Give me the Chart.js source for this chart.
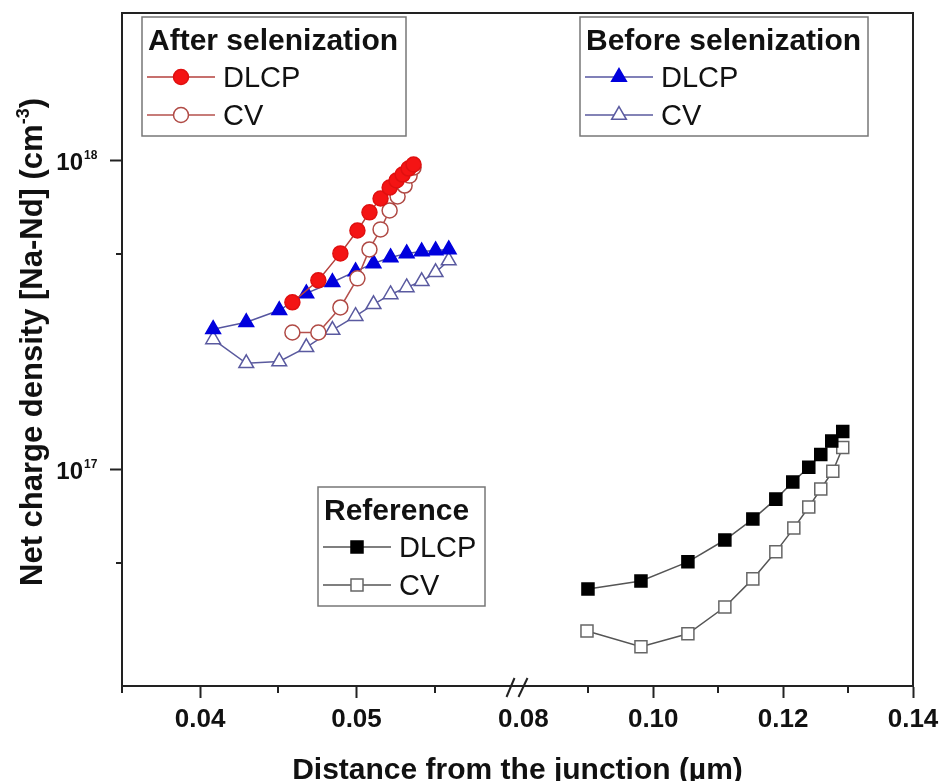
<!DOCTYPE html>
<html>
<head>
<meta charset="utf-8">
<script src="https://cdn.jsdelivr.net/npm/chart.js@4.4.1/dist/chart.umd.min.js"></script>
<style>
  html, body { margin: 0; padding: 0; background: #fff; }
</style>
</head>
<body>
<canvas id="chart" width="940" height="781"></canvas>
<script>
// distance from the junction (um) / net charge density (cm^-3)
const afterDlcpX = [0.0459, 0.04756, 0.04897, 0.05006, 0.05083, 0.05154, 0.05212, 0.05256, 0.05295, 0.05333, 0.05365];
const afterDlcpY = [3.48e17, 4.10e17, 5.01e17, 5.94e17, 6.80e17, 7.54e17, 8.18e17, 8.62e17, 9.01e17, 9.42e17, 9.71e17];
const afterCvX = [0.0459, 0.04756, 0.04897, 0.05006, 0.05083, 0.05154, 0.05212, 0.05263, 0.05308, 0.0534, 0.05365];
const afterCvY = [2.78e17, 2.78e17, 3.35e17, 4.16e17, 5.16e17, 5.99e17, 6.90e17, 7.65e17, 8.30e17, 8.94e17, 9.49e17];

const beforeX = [0.04083, 0.04295, 0.04506, 0.04679, 0.04846, 0.04994, 0.05109, 0.05218, 0.05321, 0.05417, 0.05506, 0.0559];
const beforeDlcpY = [2.85e17, 3.00e17, 3.28e17, 3.72e17, 4.04e17, 4.38e17, 4.65e17, 4.86e17, 5.01e17, 5.08e17, 5.12e17, 5.16e17];
const beforeCvY = [2.64e17, 2.21e17, 2.24e17, 2.49e17, 2.83e17, 3.14e17, 3.43e17, 3.69e17, 3.89e17, 4.07e17, 4.35e17, 4.75e17];

const refDlcpX = [0.08995, 0.09811, 0.10534, 0.11103, 0.11534, 0.11888, 0.12149, 0.12395, 0.1258, 0.12749, 0.12918];
const refDlcpY = [4.12e16, 4.37e16, 5.04e16, 5.93e16, 6.93e16, 8.04e16, 9.13e16, 1.02e17, 1.12e17, 1.24e17, 1.33e17];
const refCvX = [0.0898, 0.09811, 0.10534, 0.11103, 0.11534, 0.11888, 0.12165, 0.12395, 0.1258, 0.12765, 0.12918];
const refCvY = [3.01e16, 2.68e16, 2.95e16, 3.60e16, 4.44e16, 5.43e16, 6.48e16, 7.58e16, 8.67e16, 9.90e16, 1.18e17];

// axis ticks (x axis is broken between 0.06 and 0.08)
const xLeftMajor = [0.04, 0.05];
const xLeftMinor = [0.035, 0.045, 0.055];
const xRightMajor = [0.08, 0.10, 0.12, 0.14];
const xRightMinor = [0.09, 0.11, 0.13];
const yMajor = [1e17, 1e18];
const yMinor = [5e16, 5e17];

const FONT = 'Arial, "Liberation Sans", Helvetica, sans-serif';
const AXIS = '#222';

const toPoints = (xs, ys) => xs.map((x, i) => ({ x: x, y: ys[i] }));

const series = (label, xs, ys, axis, style) => Object.assign({
  label: label,
  data: toPoints(xs, ys),
  xAxisID: axis,
  showLine: true,
  borderWidth: 1.5,
  pointBorderWidth: 1.5,
  pointHoverRadius: 0,
}, style);

const datasets = [
  series('DLCP', afterDlcpX, afterDlcpY, 'xl', {
    borderColor: '#b5403c', pointStyle: 'circle', pointRadius: 7.5,
    pointBackgroundColor: '#f41414', pointBorderColor: '#e01010',
  }),
  series('CV', afterCvX, afterCvY, 'xl', {
    borderColor: '#b5504c', pointStyle: 'circle', pointRadius: 7.5,
    pointBackgroundColor: '#ffffff', pointBorderColor: '#b04a45',
  }),
  series('DLCP', beforeX, beforeDlcpY, 'xl', {
    borderColor: '#5656a0', pointStyle: 'triangle', pointRadius: 8.5,
    pointBackgroundColor: '#0000dd', pointBorderColor: '#0000dd',
  }),
  series('CV', beforeX, beforeCvY, 'xl', {
    borderColor: '#5a5a9e', pointStyle: 'triangle', pointRadius: 8.5,
    pointBackgroundColor: '#ffffff', pointBorderColor: '#5a5aa0',
  }),
  series('DLCP', refDlcpX, refDlcpY, 'xr', {
    borderColor: '#555555', pointStyle: 'rect', pointRadius: 8.5,
    pointBackgroundColor: '#000000', pointBorderColor: '#000000',
  }),
  series('CV', refCvX, refCvY, 'xr', {
    borderColor: '#555555', pointStyle: 'rect', pointRadius: 8.5,
    pointBackgroundColor: '#ffffff', pointBorderColor: '#666666',
  }),
];

// boxed legends, one per sample
const legendGroups = [
  { title: 'After selenization', left: 142, top: 17, width: 264, items: [0, 1] },
  { title: 'Before selenization', left: 580, top: 17, width: 288, items: [2, 3] },
  { title: 'Reference', left: 318, top: 487, width: 167, items: [4, 5] },
];

const line = (ctx, x1, y1, x2, y2) => {
  ctx.beginPath();
  ctx.moveTo(x1, y1);
  ctx.lineTo(x2, y2);
  ctx.stroke();
};

const decorations = {
  id: 'decorations',
  afterDraw(chart) {
    const { ctx, chartArea: area, scales } = chart;
    const xl = scales.xl, xr = scales.xr, y = scales.y;
    ctx.save();

    // frame top and right
    ctx.strokeStyle = AXIS;
    ctx.lineWidth = 2;
    line(ctx, area.left, area.top, area.right + 1, area.top);
    line(ctx, area.right, area.top, area.right, area.bottom);

    // minor ticks
    xLeftMinor.forEach(v => {
      const px = Math.round(xl.getPixelForValue(v));
      line(ctx, px, area.bottom, px, area.bottom + 7);
    });
    xRightMinor.forEach(v => {
      const px = Math.round(xr.getPixelForValue(v));
      line(ctx, px, area.bottom, px, area.bottom + 7);
    });
    yMinor.forEach(v => {
      const py = Math.round(y.getPixelForValue(v));
      line(ctx, area.left - 6, py, area.left, py);
    });

    // axis break marks
    const bx = xr.left;
    const by = area.bottom + 1;
    ctx.lineWidth = 2;
    line(ctx, bx - 11, by + 10, bx - 3, by - 9);
    line(ctx, bx + 1, by + 10, bx + 10, by - 9);

    // y tick labels as powers of ten
    ctx.fillStyle = '#111';
    yMajor.forEach(v => {
      const py = y.getPixelForValue(v);
      ctx.font = 'bold 24px ' + FONT;
      ctx.textAlign = 'right';
      ctx.textBaseline = 'middle';
      ctx.fillText('10', 83, py + 3);
      ctx.font = 'bold 12px ' + FONT;
      ctx.textAlign = 'left';
      ctx.textBaseline = 'alphabetic';
      ctx.fillText(String(Math.round(Math.log10(v))), 84, py - 2);
    });

    // x axis title
    ctx.font = 'bold 30px ' + FONT;
    ctx.textAlign = 'center';
    ctx.textBaseline = 'alphabetic';
    ctx.fillText('Distance from the junction (\u00b5m)', (area.left + area.right) / 2, 779);

    // y axis title with superscript
    ctx.save();
    ctx.translate(42, 342);
    ctx.rotate(-Math.PI / 2);
    const main = 'Net charge density [Na-Nd] (cm';
    const big = 'bold 31px ' + FONT, small = 'bold 18px ' + FONT;
    ctx.font = big;
    const w1 = ctx.measureText(main).width;
    const w3 = ctx.measureText(')').width;
    ctx.font = small;
    const w2 = ctx.measureText('-3').width;
    let x0 = -(w1 + w2 + w3) / 2;
    ctx.textAlign = 'left';
    ctx.font = big;
    ctx.fillText(main, x0, 0);
    ctx.font = small;
    ctx.fillText('-3', x0 + w1, -13);
    ctx.font = big;
    ctx.fillText(')', x0 + w1 + w2, 0);
    ctx.restore();

    // legends
    legendGroups.forEach(g => {
      ctx.strokeStyle = '#777';
      ctx.lineWidth = 1.5;
      ctx.strokeRect(g.left, g.top, g.width, 119);
      ctx.fillStyle = '#111';
      ctx.font = 'bold 30px ' + FONT;
      ctx.textAlign = 'left';
      ctx.textBaseline = 'alphabetic';
      ctx.fillText(g.title, g.left + 6, g.top + 33);
      g.items.forEach((di, k) => {
        const ds = chart.data.datasets[di];
        const ry = g.top + 60 + k * 38;
        ctx.strokeStyle = ds.borderColor;
        ctx.lineWidth = 1.5;
        line(ctx, g.left + 5, ry, g.left + 73, ry);
        ctx.fillStyle = ds.pointBackgroundColor;
        ctx.strokeStyle = ds.pointBorderColor;
        ctx.lineWidth = ds.pointBorderWidth;
        Chart.helpers.drawPoint(ctx, {
          pointStyle: ds.pointStyle, radius: ds.pointRadius, rotation: 0, borderWidth: ds.pointBorderWidth,
        }, g.left + 39, ry);
        ctx.fillStyle = '#111';
        ctx.font = '29px ' + FONT;
        ctx.fillText(ds.label, g.left + 81, ry + 10);
      });
    });

    ctx.restore();
  },
};

const xAxis = (min, max, majors) => ({
  type: 'linear',
  position: 'bottom',
  stack: 'x',
  stackWeight: 1,
  min: min,
  max: max,
  afterBuildTicks: s => { s.ticks = majors.map(v => ({ value: v })); },
  afterFit: s => {
    s.height = 95;
    // let the end labels hang past the frame instead of shrinking it
    s.paddingLeft = 0;
    s.paddingRight = 0;
  },
  grid: {
    drawOnChartArea: false,
    tickLength: 12,
    tickWidth: 2,
    // the 0.08 label sits on the break, no tick mark there
    tickColor: c => (c.tick && Math.abs(c.tick.value - 0.08) < 1e-9 ? 'rgba(0,0,0,0)' : AXIS),
  },
  border: { display: true, width: 2, color: AXIS },
  ticks: {
    autoSkip: false,
    maxRotation: 0,
    padding: 6,
    color: '#111',
    font: { family: FONT, size: 26, weight: 'bold' },
    callback: v => v.toFixed(2),
  },
});

new Chart(document.getElementById('chart'), {
  type: 'scatter',
  data: { datasets: datasets },
  plugins: [decorations],
  options: {
    responsive: false,
    animation: false,
    devicePixelRatio: 1,
    layout: { padding: { left: 0, top: 13, right: 27, bottom: 0 } },
    plugins: { legend: { display: false }, tooltip: { enabled: false } },
    scales: {
      xl: xAxis(0.035, 0.0603, xLeftMajor),
      xr: xAxis(0.0791, 0.14, xRightMajor),
      y: {
        type: 'logarithmic',
        position: 'left',
        min: 2e16,
        max: 3e18,
        afterBuildTicks: s => { s.ticks = yMajor.map(v => ({ value: v })); },
        afterFit: s => { s.width = 122; },
        grid: { drawOnChartArea: false, tickLength: 12, tickWidth: 2, tickColor: AXIS },
        border: { display: true, width: 2, color: AXIS },
        ticks: { display: false },
      },
    },
  },
});
</script>
</body>
</html>
